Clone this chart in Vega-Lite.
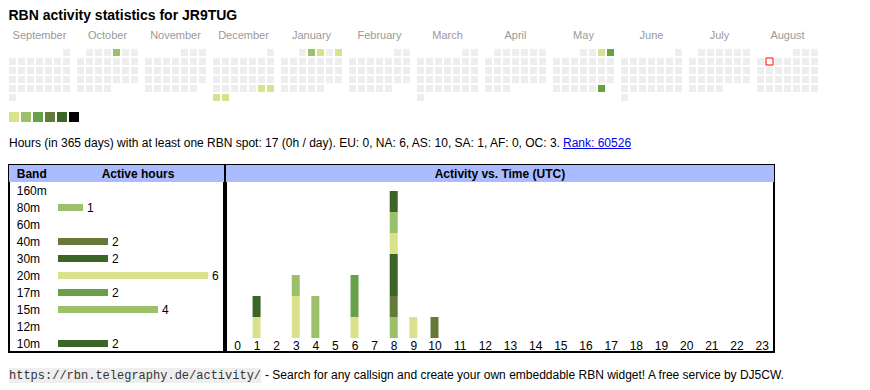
{
"$schema": "https://vega.github.io/schema/vega-lite/v6.json",
"padding": {"left": 8, "top": 9, "right": 5, "bottom": 5},
"background": "white",
"config": {"view": {"stroke": null}, "font": "Liberation Sans"},
"resolve": {"scale": {"color": "independent"}},
"spacing": 15,
"vconcat": [
{
"spacing": 10,
"resolve": {"scale": {"color": "independent"}},
"vconcat": [
{
"title": {"text": "RBN activity statistics for JR9TUG", "anchor": "start", "fontSize": 14, "fontWeight": "bold", "color": "#000000", "offset": 6},
"width": 809, "height": 52,
"data": {"values": [
{"m":"Sep","r":1,"c":7,"v":0},
{"m":"Sep","r":2,"c":1,"v":0},{"m":"Sep","r":2,"c":2,"v":0},{"m":"Sep","r":2,"c":3,"v":0},{"m":"Sep","r":2,"c":4,"v":0},{"m":"Sep","r":2,"c":5,"v":0},{"m":"Sep","r":2,"c":6,"v":0},{"m":"Sep","r":2,"c":7,"v":0},
{"m":"Sep","r":3,"c":1,"v":0},{"m":"Sep","r":3,"c":2,"v":0},{"m":"Sep","r":3,"c":3,"v":0},{"m":"Sep","r":3,"c":4,"v":0},{"m":"Sep","r":3,"c":5,"v":0},{"m":"Sep","r":3,"c":6,"v":0},{"m":"Sep","r":3,"c":7,"v":0},
{"m":"Sep","r":4,"c":1,"v":0},{"m":"Sep","r":4,"c":2,"v":0},{"m":"Sep","r":4,"c":3,"v":0},{"m":"Sep","r":4,"c":4,"v":0},{"m":"Sep","r":4,"c":5,"v":0},{"m":"Sep","r":4,"c":6,"v":0},{"m":"Sep","r":4,"c":7,"v":0},
{"m":"Sep","r":5,"c":1,"v":0},{"m":"Sep","r":5,"c":2,"v":0},{"m":"Sep","r":5,"c":3,"v":0},{"m":"Sep","r":5,"c":4,"v":0},{"m":"Sep","r":5,"c":5,"v":0},{"m":"Sep","r":5,"c":6,"v":0},{"m":"Sep","r":5,"c":7,"v":0},
{"m":"Sep","r":6,"c":1,"v":0},
{"m":"Oct","r":1,"c":2,"v":0},{"m":"Oct","r":1,"c":3,"v":0},{"m":"Oct","r":1,"c":4,"v":0},{"m":"Oct","r":1,"c":5,"v":2},{"m":"Oct","r":1,"c":6,"v":0},{"m":"Oct","r":1,"c":7,"v":0},
{"m":"Oct","r":2,"c":1,"v":0},{"m":"Oct","r":2,"c":2,"v":0},{"m":"Oct","r":2,"c":3,"v":0},{"m":"Oct","r":2,"c":4,"v":0},{"m":"Oct","r":2,"c":5,"v":0},{"m":"Oct","r":2,"c":6,"v":0},{"m":"Oct","r":2,"c":7,"v":0},
{"m":"Oct","r":3,"c":1,"v":0},{"m":"Oct","r":3,"c":2,"v":0},{"m":"Oct","r":3,"c":3,"v":0},{"m":"Oct","r":3,"c":4,"v":0},{"m":"Oct","r":3,"c":5,"v":0},{"m":"Oct","r":3,"c":6,"v":0},{"m":"Oct","r":3,"c":7,"v":0},
{"m":"Oct","r":4,"c":1,"v":0},{"m":"Oct","r":4,"c":2,"v":0},{"m":"Oct","r":4,"c":3,"v":0},{"m":"Oct","r":4,"c":4,"v":0},{"m":"Oct","r":4,"c":5,"v":0},{"m":"Oct","r":4,"c":6,"v":0},{"m":"Oct","r":4,"c":7,"v":0},
{"m":"Oct","r":5,"c":1,"v":0},{"m":"Oct","r":5,"c":2,"v":0},{"m":"Oct","r":5,"c":3,"v":0},{"m":"Oct","r":5,"c":4,"v":0},
{"m":"Nov","r":1,"c":5,"v":0},{"m":"Nov","r":1,"c":6,"v":0},{"m":"Nov","r":1,"c":7,"v":0},
{"m":"Nov","r":2,"c":1,"v":0},{"m":"Nov","r":2,"c":2,"v":0},{"m":"Nov","r":2,"c":3,"v":0},{"m":"Nov","r":2,"c":4,"v":0},{"m":"Nov","r":2,"c":5,"v":0},{"m":"Nov","r":2,"c":6,"v":0},{"m":"Nov","r":2,"c":7,"v":0},
{"m":"Nov","r":3,"c":1,"v":0},{"m":"Nov","r":3,"c":2,"v":0},{"m":"Nov","r":3,"c":3,"v":0},{"m":"Nov","r":3,"c":4,"v":0},{"m":"Nov","r":3,"c":5,"v":0},{"m":"Nov","r":3,"c":6,"v":0},{"m":"Nov","r":3,"c":7,"v":0},
{"m":"Nov","r":4,"c":1,"v":0},{"m":"Nov","r":4,"c":2,"v":0},{"m":"Nov","r":4,"c":3,"v":0},{"m":"Nov","r":4,"c":4,"v":0},{"m":"Nov","r":4,"c":5,"v":0},{"m":"Nov","r":4,"c":6,"v":0},{"m":"Nov","r":4,"c":7,"v":0},
{"m":"Nov","r":5,"c":1,"v":0},{"m":"Nov","r":5,"c":2,"v":0},{"m":"Nov","r":5,"c":3,"v":0},{"m":"Nov","r":5,"c":4,"v":0},{"m":"Nov","r":5,"c":5,"v":0},{"m":"Nov","r":5,"c":6,"v":0},
{"m":"Dec","r":1,"c":7,"v":0},
{"m":"Dec","r":2,"c":1,"v":0},{"m":"Dec","r":2,"c":2,"v":0},{"m":"Dec","r":2,"c":3,"v":0},{"m":"Dec","r":2,"c":4,"v":0},{"m":"Dec","r":2,"c":5,"v":0},{"m":"Dec","r":2,"c":6,"v":0},{"m":"Dec","r":2,"c":7,"v":0},
{"m":"Dec","r":3,"c":1,"v":0},{"m":"Dec","r":3,"c":2,"v":0},{"m":"Dec","r":3,"c":3,"v":0},{"m":"Dec","r":3,"c":4,"v":0},{"m":"Dec","r":3,"c":5,"v":0},{"m":"Dec","r":3,"c":6,"v":0},{"m":"Dec","r":3,"c":7,"v":0},
{"m":"Dec","r":4,"c":1,"v":0},{"m":"Dec","r":4,"c":2,"v":0},{"m":"Dec","r":4,"c":3,"v":0},{"m":"Dec","r":4,"c":4,"v":0},{"m":"Dec","r":4,"c":5,"v":0},{"m":"Dec","r":4,"c":6,"v":0},{"m":"Dec","r":4,"c":7,"v":0},
{"m":"Dec","r":5,"c":1,"v":0},{"m":"Dec","r":5,"c":2,"v":0},{"m":"Dec","r":5,"c":3,"v":0},{"m":"Dec","r":5,"c":4,"v":0},{"m":"Dec","r":5,"c":5,"v":0},{"m":"Dec","r":5,"c":6,"v":1},{"m":"Dec","r":5,"c":7,"v":1},
{"m":"Dec","r":6,"c":1,"v":1},{"m":"Dec","r":6,"c":2,"v":1},
{"m":"Jan","r":1,"c":3,"v":0},{"m":"Jan","r":1,"c":4,"v":2},{"m":"Jan","r":1,"c":5,"v":1},{"m":"Jan","r":1,"c":6,"v":0},{"m":"Jan","r":1,"c":7,"v":1},
{"m":"Jan","r":2,"c":1,"v":0},{"m":"Jan","r":2,"c":2,"v":0},{"m":"Jan","r":2,"c":3,"v":0},{"m":"Jan","r":2,"c":4,"v":0},{"m":"Jan","r":2,"c":5,"v":0},{"m":"Jan","r":2,"c":6,"v":0},{"m":"Jan","r":2,"c":7,"v":0},
{"m":"Jan","r":3,"c":1,"v":0},{"m":"Jan","r":3,"c":2,"v":0},{"m":"Jan","r":3,"c":3,"v":0},{"m":"Jan","r":3,"c":4,"v":0},{"m":"Jan","r":3,"c":5,"v":0},{"m":"Jan","r":3,"c":6,"v":0},{"m":"Jan","r":3,"c":7,"v":0},
{"m":"Jan","r":4,"c":1,"v":0},{"m":"Jan","r":4,"c":2,"v":0},{"m":"Jan","r":4,"c":3,"v":0},{"m":"Jan","r":4,"c":4,"v":0},{"m":"Jan","r":4,"c":5,"v":0},{"m":"Jan","r":4,"c":6,"v":0},{"m":"Jan","r":4,"c":7,"v":0},
{"m":"Jan","r":5,"c":1,"v":0},{"m":"Jan","r":5,"c":2,"v":0},{"m":"Jan","r":5,"c":3,"v":0},{"m":"Jan","r":5,"c":4,"v":0},{"m":"Jan","r":5,"c":5,"v":0},
{"m":"Feb","r":1,"c":6,"v":0},{"m":"Feb","r":1,"c":7,"v":0},
{"m":"Feb","r":2,"c":1,"v":0},{"m":"Feb","r":2,"c":2,"v":0},{"m":"Feb","r":2,"c":3,"v":0},{"m":"Feb","r":2,"c":4,"v":0},{"m":"Feb","r":2,"c":5,"v":0},{"m":"Feb","r":2,"c":6,"v":0},{"m":"Feb","r":2,"c":7,"v":0},
{"m":"Feb","r":3,"c":1,"v":0},{"m":"Feb","r":3,"c":2,"v":0},{"m":"Feb","r":3,"c":3,"v":0},{"m":"Feb","r":3,"c":4,"v":0},{"m":"Feb","r":3,"c":5,"v":0},{"m":"Feb","r":3,"c":6,"v":0},{"m":"Feb","r":3,"c":7,"v":0},
{"m":"Feb","r":4,"c":1,"v":0},{"m":"Feb","r":4,"c":2,"v":0},{"m":"Feb","r":4,"c":3,"v":0},{"m":"Feb","r":4,"c":4,"v":0},{"m":"Feb","r":4,"c":5,"v":0},{"m":"Feb","r":4,"c":6,"v":0},{"m":"Feb","r":4,"c":7,"v":0},
{"m":"Feb","r":5,"c":1,"v":0},{"m":"Feb","r":5,"c":2,"v":0},{"m":"Feb","r":5,"c":3,"v":0},{"m":"Feb","r":5,"c":4,"v":0},{"m":"Feb","r":5,"c":5,"v":0},
{"m":"Mar","r":1,"c":6,"v":0},{"m":"Mar","r":1,"c":7,"v":0},
{"m":"Mar","r":2,"c":1,"v":0},{"m":"Mar","r":2,"c":2,"v":0},{"m":"Mar","r":2,"c":3,"v":0},{"m":"Mar","r":2,"c":4,"v":0},{"m":"Mar","r":2,"c":5,"v":0},{"m":"Mar","r":2,"c":6,"v":0},{"m":"Mar","r":2,"c":7,"v":0},
{"m":"Mar","r":3,"c":1,"v":0},{"m":"Mar","r":3,"c":2,"v":0},{"m":"Mar","r":3,"c":3,"v":0},{"m":"Mar","r":3,"c":4,"v":0},{"m":"Mar","r":3,"c":5,"v":0},{"m":"Mar","r":3,"c":6,"v":0},{"m":"Mar","r":3,"c":7,"v":0},
{"m":"Mar","r":4,"c":1,"v":0},{"m":"Mar","r":4,"c":2,"v":0},{"m":"Mar","r":4,"c":3,"v":0},{"m":"Mar","r":4,"c":4,"v":0},{"m":"Mar","r":4,"c":5,"v":0},{"m":"Mar","r":4,"c":6,"v":0},{"m":"Mar","r":4,"c":7,"v":0},
{"m":"Mar","r":5,"c":1,"v":0},{"m":"Mar","r":5,"c":2,"v":0},{"m":"Mar","r":5,"c":3,"v":0},{"m":"Mar","r":5,"c":4,"v":0},{"m":"Mar","r":5,"c":5,"v":0},{"m":"Mar","r":5,"c":6,"v":0},{"m":"Mar","r":5,"c":7,"v":0},
{"m":"Mar","r":6,"c":1,"v":0},
{"m":"Apr","r":1,"c":2,"v":0},{"m":"Apr","r":1,"c":3,"v":0},{"m":"Apr","r":1,"c":4,"v":0},{"m":"Apr","r":1,"c":5,"v":0},{"m":"Apr","r":1,"c":6,"v":0},{"m":"Apr","r":1,"c":7,"v":0},
{"m":"Apr","r":2,"c":1,"v":0},{"m":"Apr","r":2,"c":2,"v":0},{"m":"Apr","r":2,"c":3,"v":0},{"m":"Apr","r":2,"c":4,"v":0},{"m":"Apr","r":2,"c":5,"v":0},{"m":"Apr","r":2,"c":6,"v":0},{"m":"Apr","r":2,"c":7,"v":0},
{"m":"Apr","r":3,"c":1,"v":0},{"m":"Apr","r":3,"c":2,"v":0},{"m":"Apr","r":3,"c":3,"v":0},{"m":"Apr","r":3,"c":4,"v":0},{"m":"Apr","r":3,"c":5,"v":0},{"m":"Apr","r":3,"c":6,"v":0},{"m":"Apr","r":3,"c":7,"v":0},
{"m":"Apr","r":4,"c":1,"v":0},{"m":"Apr","r":4,"c":2,"v":0},{"m":"Apr","r":4,"c":3,"v":0},{"m":"Apr","r":4,"c":4,"v":0},{"m":"Apr","r":4,"c":5,"v":0},{"m":"Apr","r":4,"c":6,"v":0},{"m":"Apr","r":4,"c":7,"v":0},
{"m":"Apr","r":5,"c":1,"v":0},{"m":"Apr","r":5,"c":2,"v":0},{"m":"Apr","r":5,"c":3,"v":0},
{"m":"May","r":1,"c":4,"v":0},{"m":"May","r":1,"c":5,"v":0},{"m":"May","r":1,"c":6,"v":1},{"m":"May","r":1,"c":7,"v":3},
{"m":"May","r":2,"c":1,"v":0},{"m":"May","r":2,"c":2,"v":0},{"m":"May","r":2,"c":3,"v":0},{"m":"May","r":2,"c":4,"v":0},{"m":"May","r":2,"c":5,"v":0},{"m":"May","r":2,"c":6,"v":0},{"m":"May","r":2,"c":7,"v":0},
{"m":"May","r":3,"c":1,"v":0},{"m":"May","r":3,"c":2,"v":0},{"m":"May","r":3,"c":3,"v":0},{"m":"May","r":3,"c":4,"v":0},{"m":"May","r":3,"c":5,"v":0},{"m":"May","r":3,"c":6,"v":0},{"m":"May","r":3,"c":7,"v":0},
{"m":"May","r":4,"c":1,"v":0},{"m":"May","r":4,"c":2,"v":0},{"m":"May","r":4,"c":3,"v":0},{"m":"May","r":4,"c":4,"v":0},{"m":"May","r":4,"c":5,"v":0},{"m":"May","r":4,"c":6,"v":0},{"m":"May","r":4,"c":7,"v":0},
{"m":"May","r":5,"c":1,"v":0},{"m":"May","r":5,"c":2,"v":0},{"m":"May","r":5,"c":3,"v":0},{"m":"May","r":5,"c":4,"v":0},{"m":"May","r":5,"c":5,"v":0},{"m":"May","r":5,"c":6,"v":3},
{"m":"Jun","r":1,"c":7,"v":0},
{"m":"Jun","r":2,"c":1,"v":0},{"m":"Jun","r":2,"c":2,"v":0},{"m":"Jun","r":2,"c":3,"v":0},{"m":"Jun","r":2,"c":4,"v":0},{"m":"Jun","r":2,"c":5,"v":0},{"m":"Jun","r":2,"c":6,"v":0},{"m":"Jun","r":2,"c":7,"v":0},
{"m":"Jun","r":3,"c":1,"v":0},{"m":"Jun","r":3,"c":2,"v":0},{"m":"Jun","r":3,"c":3,"v":0},{"m":"Jun","r":3,"c":4,"v":0},{"m":"Jun","r":3,"c":5,"v":0},{"m":"Jun","r":3,"c":6,"v":0},{"m":"Jun","r":3,"c":7,"v":0},
{"m":"Jun","r":4,"c":1,"v":0},{"m":"Jun","r":4,"c":2,"v":0},{"m":"Jun","r":4,"c":3,"v":0},{"m":"Jun","r":4,"c":4,"v":0},{"m":"Jun","r":4,"c":5,"v":0},{"m":"Jun","r":4,"c":6,"v":0},{"m":"Jun","r":4,"c":7,"v":0},
{"m":"Jun","r":5,"c":1,"v":0},{"m":"Jun","r":5,"c":2,"v":0},{"m":"Jun","r":5,"c":3,"v":0},{"m":"Jun","r":5,"c":4,"v":0},{"m":"Jun","r":5,"c":5,"v":0},{"m":"Jun","r":5,"c":6,"v":0},{"m":"Jun","r":5,"c":7,"v":0},
{"m":"Jun","r":6,"c":1,"v":0},
{"m":"Jul","r":1,"c":2,"v":0},{"m":"Jul","r":1,"c":3,"v":0},{"m":"Jul","r":1,"c":4,"v":0},{"m":"Jul","r":1,"c":5,"v":0},{"m":"Jul","r":1,"c":6,"v":0},{"m":"Jul","r":1,"c":7,"v":0},
{"m":"Jul","r":2,"c":1,"v":0},{"m":"Jul","r":2,"c":2,"v":0},{"m":"Jul","r":2,"c":3,"v":0},{"m":"Jul","r":2,"c":4,"v":0},{"m":"Jul","r":2,"c":5,"v":0},{"m":"Jul","r":2,"c":6,"v":0},{"m":"Jul","r":2,"c":7,"v":0},
{"m":"Jul","r":3,"c":1,"v":0},{"m":"Jul","r":3,"c":2,"v":0},{"m":"Jul","r":3,"c":3,"v":0},{"m":"Jul","r":3,"c":4,"v":0},{"m":"Jul","r":3,"c":5,"v":0},{"m":"Jul","r":3,"c":6,"v":0},{"m":"Jul","r":3,"c":7,"v":0},
{"m":"Jul","r":4,"c":1,"v":0},{"m":"Jul","r":4,"c":2,"v":0},{"m":"Jul","r":4,"c":3,"v":0},{"m":"Jul","r":4,"c":4,"v":0},{"m":"Jul","r":4,"c":5,"v":0},{"m":"Jul","r":4,"c":6,"v":0},{"m":"Jul","r":4,"c":7,"v":0},
{"m":"Jul","r":5,"c":1,"v":0},{"m":"Jul","r":5,"c":2,"v":0},{"m":"Jul","r":5,"c":3,"v":0},{"m":"Jul","r":5,"c":4,"v":0},
{"m":"Aug","r":1,"c":5,"v":0},{"m":"Aug","r":1,"c":6,"v":0},{"m":"Aug","r":1,"c":7,"v":0},
{"m":"Aug","r":2,"c":1,"v":0},{"m":"Aug","r":2,"c":2,"v":0,"t":1},{"m":"Aug","r":2,"c":3,"v":0},{"m":"Aug","r":2,"c":4,"v":0},{"m":"Aug","r":2,"c":5,"v":0},{"m":"Aug","r":2,"c":6,"v":0},{"m":"Aug","r":2,"c":7,"v":0},
{"m":"Aug","r":3,"c":1,"v":0},{"m":"Aug","r":3,"c":2,"v":0},{"m":"Aug","r":3,"c":3,"v":0},{"m":"Aug","r":3,"c":4,"v":0},{"m":"Aug","r":3,"c":5,"v":0},{"m":"Aug","r":3,"c":6,"v":0},{"m":"Aug","r":3,"c":7,"v":0},
{"m":"Aug","r":4,"c":1,"v":0},{"m":"Aug","r":4,"c":2,"v":0},{"m":"Aug","r":4,"c":3,"v":0},{"m":"Aug","r":4,"c":4,"v":0},{"m":"Aug","r":4,"c":5,"v":0},{"m":"Aug","r":4,"c":6,"v":0},{"m":"Aug","r":4,"c":7,"v":0},
{"m":"Aug","r":5,"c":1,"v":0},{"m":"Aug","r":5,"c":2,"v":0},{"m":"Aug","r":5,"c":3,"v":0},{"m":"Aug","r":5,"c":4,"v":0},{"m":"Aug","r":5,"c":5,"v":0},{"m":"Aug","r":5,"c":6,"v":0},{"m":"Aug","r":5,"c":7,"v":0}
]},
"mark": {"type": "rect", "strokeWidth": 1},
"encoding": {
"x": {"field": "m", "type": "nominal", "scale": {"domain": ["Sep","Oct","Nov","Dec","Jan","Feb","Mar","Apr","May","Jun","Jul","Aug"], "paddingInner": 0.102941, "paddingOuter": 0},
  "axis": {"orient": "top", "title": null, "ticks": false, "domain": false, "labelColor": "#999999", "labelFontSize": 11, "labelPadding": 11, "labelBaseline": "alphabetic", "labelAngle": 0,
  "labelExpr": "{'Sep':'September','Oct':'October','Nov':'November','Dec':'December','Jan':'January','Feb':'February','Mar':'March','Apr':'April','May':'May','Jun':'June','Jul':'July','Aug':'August'}[datum.value]"}},
"xOffset": {"field": "c", "type": "ordinal", "scale": {"domain": [1,2,3,4,5,6,7], "paddingInner": 0.222222, "paddingOuter": 0}},
"y": {"field": "r", "type": "ordinal", "scale": {"domain": [1,2,3,4,5,6], "paddingInner": 0.222222, "paddingOuter": 0}, "axis": null},
"color": {"condition": {"test": "datum.t == 1", "value": "#ffffff"}, "field": "v", "type": "ordinal", "scale": {"domain": [0,1,2,3,4,5,6], "range": ["#eeeeee","#d9e28b","#9cc06a","#68a048","#657a3a","#3b6628","#000000"]}, "legend": null},
"stroke": {"condition": {"test": "datum.t == 1", "value": "#ff0000"}, "value": "transparent"}
}
},
{
"width": 70, "height": 10,
"data": {"values": [{"lv":1},{"lv":2},{"lv":3},{"lv":4},{"lv":5},{"lv":6}]},
"mark": "rect",
"encoding": {
"x": {"field": "lv", "type": "ordinal", "scale": {"paddingInner": 0.166667, "paddingOuter": 0}, "axis": null},
"color": {"field": "lv", "type": "ordinal", "scale": {"domain": [1,2,3,4,5,6], "range": ["#d9e28b","#9cc06a","#68a048","#657a3a","#3b6628","#000000"]}, "legend": null}
}
},
{
"spacing": 0,
"hconcat": [
{
"width": 553, "height": 22,
"data": {"values": [{"t": "Hours (in 365 days) with at least one RBN spot: 17 (0h / day). EU: 0, NA: 6, AS: 10, SA: 1, AF: 0, OC: 3."}]},
"mark": {"type": "text", "align": "left", "baseline": "alphabetic", "fontSize": 12, "color": "#000000"},
"encoding": {
"x": {"datum": 0, "type": "quantitative", "scale": {"domain": [0,1]}, "axis": null},
"y": {"datum": 0.318, "type": "quantitative", "scale": {"domain": [0,1]}, "axis": null},
"text": {"field": "t"}
}
},
{
"width": 68, "height": 22,
"data": {"values": [{"t": "Rank: 60526"}]},
"layer": [
{"mark": {"type": "text", "align": "left", "baseline": "alphabetic", "fontSize": 12, "color": "#0000ee"},
 "encoding": {
 "x": {"datum": 0, "type": "quantitative", "scale": {"domain": [0,1]}, "axis": null},
 "y": {"datum": 0.318, "type": "quantitative", "scale": {"domain": [0,1]}, "axis": null},
 "text": {"field": "t"}}},
{"mark": {"type": "rule", "color": "#0000ee", "strokeWidth": 1},
 "encoding": {"y": {"datum": 0.25, "type": "quantitative", "scale": {"domain": [0,1]}, "axis": null}}}
]
}
]
},
{
"spacing": 0,
"resolve": {"scale": {"color": "independent"}},
"hconcat": [
{
"width": 215, "height": 187,
"view": {"stroke": "#000000", "strokeWidth": 2},
"layer": [
{"data": {"values": [{"band": "Band"}]},
 "mark": {"type": "rect", "color": "#aabbff"},
 "encoding": {"y": {"field": "band", "type": "nominal", "scale": {"domain": ["Band","160m","80m","60m","40m","30m","20m","17m","15m","12m","10m"], "paddingInner": 0, "paddingOuter": 0}, "axis": null}}},
{"data": {"values": [{"band":"160m","h":0},{"band":"80m","h":1},{"band":"60m","h":0},{"band":"40m","h":2},{"band":"30m","h":2},{"band":"20m","h":6},{"band":"17m","h":2},{"band":"15m","h":4},{"band":"12m","h":0},{"band":"10m","h":2}]},
 "layer": [
 {"mark": {"type": "bar", "height": 7},
  "encoding": {
  "x": {"field": "h", "type": "quantitative", "scale": {"domain": [-1.96, 6.64], "nice": false, "zero": false, "padding": 0}, "axis": null},
  "x2": {"datum": 0},
  "y": {"field": "band", "type": "nominal", "scale": {"domain": ["Band","160m","80m","60m","40m","30m","20m","17m","15m","12m","10m"], "paddingInner": 0, "paddingOuter": 0}, "axis": null},
  "color": {"field": "band", "type": "nominal", "scale": {"domain": ["160m","80m","60m","40m","30m","20m","17m","15m","12m","10m"], "range": ["#000000","#9cc06a","#68a048","#657a3a","#3b6628","#d9e28b","#68a048","#9cc06a","#657a3a","#3b6628"]}, "legend": null}}},
 {"mark": {"type": "text", "align": "left", "baseline": "middle", "fontSize": 12, "color": "#000000"},
  "encoding": {
  "x": {"datum": -1.65, "type": "quantitative", "scale": {"domain": [-1.96, 6.64], "nice": false, "zero": false, "padding": 0}, "axis": null},
  "y": {"field": "band", "type": "nominal", "scale": {"domain": ["Band","160m","80m","60m","40m","30m","20m","17m","15m","12m","10m"], "paddingInner": 0, "paddingOuter": 0}, "axis": null},
  "text": {"field": "band"}}},
 {"transform": [{"filter": "datum.h > 0"}],
  "mark": {"type": "text", "align": "left", "baseline": "middle", "fontSize": 12, "dx": 4, "color": "#000000"},
  "encoding": {
  "x": {"field": "h", "type": "quantitative", "scale": {"domain": [-1.96, 6.64], "nice": false, "zero": false, "padding": 0}, "axis": null},
  "y": {"field": "band", "type": "nominal", "scale": {"domain": ["Band","160m","80m","60m","40m","30m","20m","17m","15m","12m","10m"], "paddingInner": 0, "paddingOuter": 0}, "axis": null},
  "text": {"field": "h", "type": "quantitative"}}}
 ]},
{"data": {"values": [{"band": "Band", "a": "Band", "b": "Active hours"}]},
 "layer": [
 {"mark": {"type": "text", "align": "left", "baseline": "middle", "fontSize": 12, "fontWeight": "bold", "color": "#000000"},
  "encoding": {
  "x": {"datum": -1.65, "type": "quantitative", "scale": {"domain": [-1.96, 6.64], "nice": false, "zero": false, "padding": 0}, "axis": null},
  "y": {"field": "band", "type": "nominal", "scale": {"domain": ["Band","160m","80m","60m","40m","30m","20m","17m","15m","12m","10m"], "paddingInner": 0, "paddingOuter": 0}, "axis": null},
  "text": {"field": "a"}}},
 {"mark": {"type": "text", "align": "center", "baseline": "middle", "fontSize": 12, "fontWeight": "bold", "color": "#000000"},
  "encoding": {
  "x": {"datum": 3.2, "type": "quantitative", "scale": {"domain": [-1.96, 6.64], "nice": false, "zero": false, "padding": 0}, "axis": null},
  "y": {"field": "band", "type": "nominal", "scale": {"domain": ["Band","160m","80m","60m","40m","30m","20m","17m","15m","12m","10m"], "paddingInner": 0, "paddingOuter": 0}, "axis": null},
  "text": {"field": "b"}}}
 ]}
]
},
{
"width": 548, "height": 187,
"view": {"stroke": "#000000", "strokeWidth": 2},
"layer": [
{"data": {"values": [{"a": 1}]},
 "mark": {"type": "rect", "color": "#aabbff"},
 "encoding": {
 "y": {"datum": 7.4286, "type": "quantitative", "scale": {"domain": [-0.6667, 8.2381], "nice": false, "zero": false, "padding": 0}, "axis": null},
 "y2": {"datum": 8.2381}}},
{"data": {"values": [
 {"hr":1,"band":"20m","n":1,"o":6},{"hr":1,"band":"10m","n":1,"o":10},
 {"hr":3,"band":"20m","n":2,"o":6},{"hr":3,"band":"15m","n":1,"o":8},
 {"hr":4,"band":"15m","n":2,"o":8},
 {"hr":6,"band":"20m","n":1,"o":6},{"hr":6,"band":"17m","n":2,"o":7},
 {"hr":8,"band":"80m","n":1,"o":2},{"hr":8,"band":"40m","n":1,"o":4},{"hr":8,"band":"30m","n":2,"o":5},{"hr":8,"band":"20m","n":1,"o":6},{"hr":8,"band":"15m","n":1,"o":8},{"hr":8,"band":"10m","n":1,"o":10},
 {"hr":9,"band":"20m","n":1,"o":6},
 {"hr":10,"band":"40m","n":1,"o":4}
 ]},
 "mark": {"type": "bar", "width": 8},
 "encoding": {
 "x": {"field": "hr", "type": "quantitative", "scale": {"domain": [0,9,10,23], "range": [11,187.3,208.5,535.7], "nice": false, "zero": false, "padding": 0},
   "axis": {"values": [0,1,2,3,4,5,6,7,8,9,10,11,12,13,14,15,16,17,18,19,20,21,22,23], "orient": "bottom", "offset": -12, "title": null, "ticks": false, "domain": false, "grid": false, "labelFontSize": 12, "labelColor": "#000000", "labelPadding": 0, "labelBaseline": "top", "labelFlush": false, "labelOverlap": false, "format": "d"}},
 "y": {"field": "n", "type": "quantitative", "stack": "zero", "scale": {"domain": [-0.6667, 8.2381], "nice": false, "zero": false, "padding": 0}, "axis": null},
 "color": {"field": "band", "type": "nominal", "scale": {"domain": ["160m","80m","60m","40m","30m","20m","17m","15m","12m","10m"], "range": ["#000000","#9cc06a","#68a048","#657a3a","#3b6628","#d9e28b","#68a048","#9cc06a","#657a3a","#3b6628"]}, "legend": null},
 "order": {"field": "o", "type": "quantitative", "sort": "ascending"}}},
{"data": {"values": [{"t": "Activity vs. Time (UTC)"}]},
 "mark": {"type": "text", "align": "center", "baseline": "middle", "fontSize": 12, "fontWeight": "bold", "color": "#000000"},
 "encoding": {
 "x": {"datum": 12.6, "type": "quantitative", "scale": {"domain": [0,9,10,23], "range": [11,187.3,208.5,535.7], "nice": false, "zero": false, "padding": 0},
   "axis": {"values": [0,1,2,3,4,5,6,7,8,9,10,11,12,13,14,15,16,17,18,19,20,21,22,23], "orient": "bottom", "offset": -12, "title": null, "ticks": false, "domain": false, "grid": false, "labelFontSize": 12, "labelColor": "#000000", "labelPadding": 0, "labelBaseline": "top", "labelFlush": false, "labelOverlap": false, "format": "d"}},
 "y": {"datum": 7.833, "type": "quantitative", "scale": {"domain": [-0.6667, 8.2381], "nice": false, "zero": false, "padding": 0}, "axis": null},
 "text": {"field": "t"}}}
]
}
]
}
]
},
{
"spacing": 0,
"hconcat": [
{
"width": 252, "height": 15,
"view": {"fill": "#eeeeee", "stroke": null},
"data": {"values": [{"t": "https://rbn.telegraphy.de/activity/"}]},
"mark": {"type": "text", "align": "left", "baseline": "alphabetic", "fontSize": 12, "font": "Liberation Mono", "color": "#333333"},
"encoding": {
"x": {"datum": 0, "type": "quantitative", "scale": {"domain": [0,1]}, "axis": null},
"y": {"datum": 0.267, "type": "quantitative", "scale": {"domain": [0,1]}, "axis": null},
"text": {"field": "t"}
}
},
{
"width": 540, "height": 15,
"data": {"values": [{"t": "- Search for any callsign and create your own embeddable RBN widget! A free service by DJ5CW."}]},
"mark": {"type": "text", "align": "left", "baseline": "alphabetic", "fontSize": 12, "dx": 3, "color": "#000000"},
"encoding": {
"x": {"datum": 0, "type": "quantitative", "scale": {"domain": [0,1]}, "axis": null},
"y": {"datum": 0.267, "type": "quantitative", "scale": {"domain": [0,1]}, "axis": null},
"text": {"field": "t"}
}
}
]
}
]
}
